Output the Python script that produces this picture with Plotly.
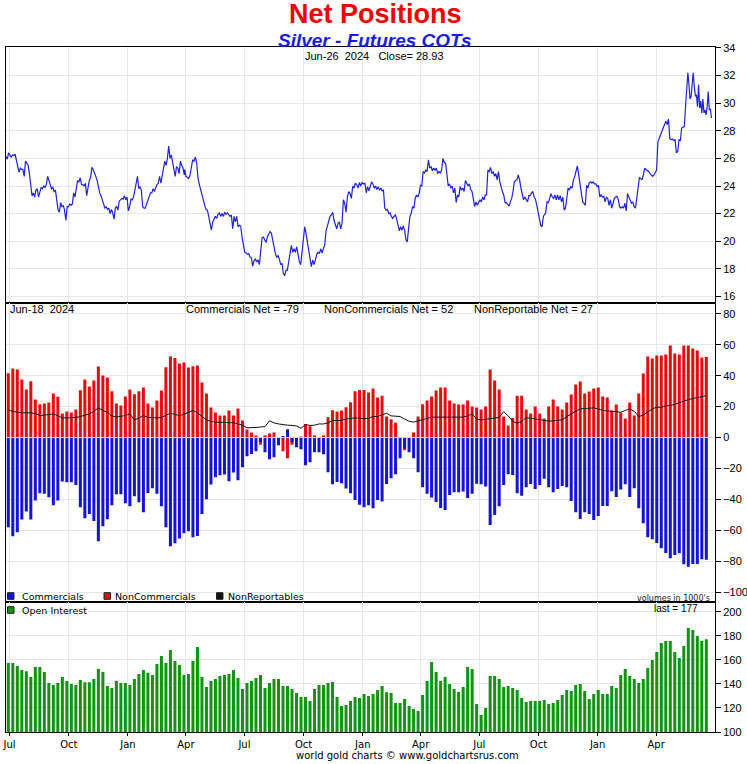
import numpy as np
import pandas as pd
import plotly.graph_objects as go
from plotly.subplots import make_subplots

# ---------------- DATA ----------------
cot_start = "2021-06-29"   # weekly COT report dates (Tuesdays)

commercials = [
    -58, -63.8, -61.2, -53, -47.8, -53, -40.7, -36, -36.4, -38.6,
    -43.8, -40.7, -28.4, -28.9, -28.9, -30.6, -45, -52.2, -49.4, -54,
    -67, -57.3, -52.8, -43.8, -36.6, -36.6, -42.5, -44.4, -38, -41.8,
    -48.3, -35.8, -32.8, -36.4, -44.4, -58, -70.3, -68.3, -65.3, -61.9,
    -60.6, -64.4, -63.6, -49.4, -39.9, -30.4, -25.7, -24.4, -23.9, -28.2,
    -22.6, -27.6, -19.2, -12.1, -10.6, -8.8, -3, -9.5, -14, -12.7,
    -5, 1, 5.4, -3, -6.2, -7.5, -17.9, -16, -9.5, -9.5,
    -10.8, -22.4, -30.2, -28.7, -29.5, -33, -36, -40.3, -43.5, -45,
    -43.8, -45.7, -40.3, -41.4, -30, -26.3, -23.7, -13.4, -7.1, -9.5,
    -13.4, -22.4, -32.1, -36.4, -38.8, -41.6, -45.5, -46.8, -37.1, -35.4,
    -35.4, -34.9, -39, -36.4, -29.8, -30.2, -31.7, -56.5, -50, -44.4,
    -30.6, -23.7, -24.2, -36, -37.7, -32.1, -30, -33.2, -30.6, -26.7,
    -32.1, -35.4, -33.2, -31.3, -32.1, -41, -48.3, -52.6, -48.3, -49.4,
    -53.3, -50.7, -44.2, -44.2, -34.7, -38.4, -33.6, -30.2, -38.4, -32.8,
    -45.7, -55.4, -64.5, -65.8, -68.1, -71.6, -74.6, -78, -75.9, -74.8,
    -81.9, -83.5, -81.7, -81.7, -78.7, -79,
]

noncommercials = [
    41.6, 44.6, 44, 37.5, 31, 36.4, 24.6, 21.5, 22, 22.6,
    28.4, 26.3, 15.5, 16.8, 16.2, 18.1, 30.6, 37.5, 33, 36.9,
    45.9, 40.1, 38.8, 30, 22, 20.7, 26.5, 31, 28, 30,
    32.3, 22, 19.4, 23.9, 30.4, 45.5, 52.4, 51.5, 47.8, 48.5,
    45.3, 46.1, 46.6, 35.6, 28.4, 19.4, 16.2, 14.2, 14.2, 17.5,
    14.2, 18.8, 11, 5.2, 3.2, 1.3, -4.7, 1.3, 2.6, 3.2,
    0, -8.8, -13.4, -4.7, 0, 0.6, 8.8, 7.3, 1.3, 0,
    1.3, 13.1, 17.7, 16.8, 17.5, 19.6, 22.8, 30, 30.8, 30.8,
    29.1, 31.7, 25.9, 27, 13.6, 11.9, 9.5, 0, -8.2, 0,
    3.2, 13.6, 21.6, 23.9, 26.5, 30.4, 32.3, 32.3, 23.9, 22,
    21.3, 21.3, 23.9, 20.1, 19.4, 18.1, 20.1, 44, 36.9, 31,
    13.6, 7.8, 12.7, 27, 27, 18.1, 15.5, 20.1, 15.5, 12.3,
    20.1, 24.6, 20.1, 18.1, 22.6, 27.8, 34.3, 36.2, 28.5, 29.8,
    31.7, 32.3, 26.5, 25.9, 17.5, 21.3, 16.2, 12.3, 22.6, 14.2,
    28.5, 41.4, 52.4, 51.1, 53, 53, 53.7, 59.5, 54.3, 53.7,
    59.5, 59.5, 57.6, 56.3, 51.8, 52,
]

nonreportables = [
    17.9, 16.8, 16.5, 16, 16, 16, 15.5, 14.2, 14.5, 15,
    15.3, 14, 12.7, 12.7, 12.7, 13, 13.6, 14.5, 15.3, 17,
    19.2, 17.5, 16.4, 14, 13.2, 13.8, 14.2, 15.3, 11.4, 12.5,
    14.2, 13, 12.7, 12.7, 13, 14.5, 15.7, 15, 14.2, 15,
    16.5, 17.5, 16, 13.5, 11.4, 10.5, 9.9, 9.9, 9.9, 9.9,
    9.5, 8.8, 8, 6.3, 6.3, 6.5, 6.8, 7.1, 10.8, 9.5,
    8.8, 8.3, 8, 7.8, 7.5, 6, 8.4, 7.8, 8, 8.8,
    8.8, 9.5, 11, 11, 11, 12, 12.5, 12.7, 12.5, 12.1,
    12.5, 13.6, 13.6, 14.5, 15.7, 14, 13.6, 13.6, 12, 10.5,
    10, 10.8, 12, 12.7, 13.2, 13.2, 13.2, 13.2, 13.2, 13,
    13, 13.2, 14, 15.3, 12, 11.4, 11.8, 12.3, 12.7, 13,
    16.8, 14, 10.5, 9.3, 10.5, 12.7, 12.5, 12, 11.4, 11,
    10.6, 10.8, 11, 11.5, 13.5, 15.5, 17, 18.5, 18.8, 19,
    19.2, 18.5, 17.5, 17.2, 17, 16.5, 16.4, 17.5, 18.5, 17,
    13.6, 14.5, 16.4, 18.5, 19.6, 19.5, 20.5, 20.7, 21.5, 22.5,
    23.9, 24.5, 25.2, 26, 26.5, 27,
]

open_interest = [
    157.3, 157.3, 154.8, 151.5, 150.4, 145.7, 154, 154, 149.9, 140.7,
    139.1, 140.7, 145.7, 142.4, 139.9, 139.1, 143.2, 141.3, 141.3, 144,
    152.4, 149.9, 138.2, 136.6, 142.4, 140.7, 140.7, 139.1, 144, 148.2,
    151.5, 149.3, 147.4, 156.5, 163.2, 157.3, 168.1, 159, 155.7, 147.4,
    148.2, 159, 170.6, 145.7, 137.4, 142.4, 144, 146.5, 147.4, 148.2,
    151.5, 144.9, 135.7, 140.7, 142.4, 144.9, 147.4, 136.6, 140.7, 144,
    144, 138.2, 138.2, 135.7, 132.4, 129.1, 129.1, 125.8, 135.7, 139.1,
    139.1, 140.7, 141.6, 129.1, 121.6, 122.4, 125.8, 129.1, 128.3, 131.6,
    129.9, 131.6, 134.9, 138.2, 133, 132.4, 124.1, 124.1, 127.4, 121.6,
    119.1, 117.5, 130.7, 142.4, 158.2, 149.9, 142.4, 145.7, 139.9, 135.7,
    133.2, 137.4, 154, 152.4, 123.3, 114.1, 119.9, 146.5, 146.5, 144,
    137.4, 138.2, 136.6, 134.9, 128.3, 124.9, 125.8, 125.8, 125.8, 126.6,
    123.3, 124.1, 126.6, 130.7, 134.9, 134.1, 139.1, 139.9, 134.1, 127.4,
    131.6, 134.9, 131.6, 131.6, 138.2, 136.6, 147.4, 152.4, 146.5, 144,
    140.7, 144, 153.2, 159.8, 166.5, 174, 175.6, 175.6, 166.5, 161.5,
    171.5, 186.4, 184.8, 179.8, 175.6, 177,
]

# Silver close price, read in segments; each segment spans (start_day, end_day)
# counted in days from 2021-07-01
price_base = "2021-07-01"
price_seg_days = [(-5.6, 271.6), (272.2, 552.0), (552.4, 831.8), (833.3, 1048.8), (1051.0, 1091.0)]

price_seg_1 = [
    26.13, 25.94, 26.4, 26.2, 26.1, 26.25, 26.2, 26.3, 25.9, 25.4,
    25.0, 25.3, 25.2, 25.2, 24.7, 25.8, 25.6, 25.5, 24.9, 24.1,
    23.3, 23.5, 23.2, 23.7, 23.8, 23.2, 23.6, 23.9, 23.8, 24.0,
    23.9, 24.1, 24.7, 24.4, 24.1, 23.8, 23.9, 23.6, 23.7, 23.0,
    22.25, 22.1, 22.8, 22.5, 22.6, 22.25, 21.5, 22.5, 22.5, 22.7,
    22.6, 22.7, 23.5, 23.2, 23.7, 24.4, 24.3, 24.6, 24.1, 24.1,
    24.0, 24.2, 23.3, 24.0, 24.4, 24.6, 25.35, 25.2, 25.0, 24.7,
    24.4, 23.8, 23.5, 23.3, 23.0, 22.7, 22.4, 22.5, 22.3, 22.4,
    22.0, 22.3, 22.05, 21.6, 22.4, 22.5, 22.25, 22.9, 23.0, 23.1,
    23.05, 23.3, 23.0, 23.2, 22.2, 22.5, 23.05, 23.0, 23.2, 23.6,
    24.2, 24.7, 23.8, 23.95, 23.7, 22.5, 22.4, 22.4, 22.7, 23.0,
    23.3, 23.5, 23.5, 23.8, 23.6, 23.95, 24.1, 24.2, 24.7, 24.2,
    24.8, 25.4, 25.8, 25.5, 26.0, 26.9, 26.0, 26.25, 25.65, 25.2,
    24.7, 25.4, 25.3, 24.9, 25.8, 25.5, 25.3, 24.8,
]
price_seg_2 = [
    25.2, 24.7, 24.6, 24.55, 24.8, 25.4, 25.9, 25.8, 26.1, 25.65,
    24.55, 24.1, 23.7, 23.35, 22.85, 22.6, 22.3, 22.25, 21.8, 21.3,
    20.8, 21.4, 21.65, 21.8, 21.65, 21.95, 22.05, 21.8, 22.0, 21.8,
    22.1, 21.95, 22.05, 21.9, 21.8, 21.9, 20.9, 21.8, 21.4, 21.8,
    21.05, 21.15, 21.1, 20.3, 19.85, 19.2, 19.15, 19.05, 19.1, 18.85,
    18.8, 18.2, 18.6, 18.7, 18.5, 18.65, 18.3, 19.2, 20.25, 20.3,
    20.05, 19.9, 20.3, 20.55, 20.7, 20.6, 20.05, 19.7, 19.1, 18.85,
    18.95, 18.7, 18.3, 18.4, 17.65, 17.5, 17.9, 17.9, 18.4, 19.1,
    19.7, 19.2, 19.45, 19.2, 19.6, 19.1, 18.5, 18.3, 19.1, 19.95,
    21.05, 20.55, 19.95, 19.35, 19.0, 18.15, 18.65, 18.3, 18.65, 19.05,
    19.2, 19.1, 19.45, 19.15, 19.45, 19.7, 20.75, 21.05, 21.5, 21.8,
    21.9, 22.1, 21.5, 21.15, 20.9, 21.3, 21.4, 20.9, 21.3, 23.0,
    22.75, 22.1, 23.2, 23.6, 23.45, 23.1, 24.0, 23.85, 24.2, 24.1,
    23.85, 24.25, 24.0, 24.25, 24.15, 24.2,
]
price_seg_3 = [
    24.2, 23.5, 23.95, 23.65, 24.0, 24.3, 24.15, 23.85, 24.0, 23.75,
    23.95, 23.7, 23.85, 23.65, 23.7, 22.4, 22.25, 22.3, 22.0, 22.05,
    21.8, 21.65, 21.8, 21.9, 21.6, 21.05, 20.75, 21.05, 20.8, 21.1,
    20.8, 20.1, 19.95, 20.9, 21.8, 22.0, 22.5, 22.4, 23.1, 23.35,
    23.2, 23.45, 24.05, 24.0, 25.05, 24.95, 25.15, 25.05, 25.9, 25.3,
    25.4, 25.1, 25.3, 25.15, 25.3, 24.9, 25.05, 24.95, 25.15, 26.0,
    25.7, 25.65, 24.8, 24.0, 24.15, 23.85, 24.0, 23.5, 23.85, 22.8,
    23.35, 23.2, 23.95, 23.7, 23.85, 23.6, 24.4, 24.2, 24.0, 24.15,
    23.75, 23.6, 23.0, 22.5, 22.85, 22.6, 22.8, 23.0, 22.85, 23.2,
    23.0, 23.35, 23.35, 25.15, 25.05, 25.35, 24.9, 25.05, 24.7, 24.9,
    24.45, 25.05, 24.3, 23.85, 23.6, 23.35, 22.8, 22.8, 22.7, 22.55,
    22.85, 23.1, 23.6, 24.3, 24.4, 24.45, 24.8, 24.45, 23.85, 23.45,
    23.0, 23.2, 23.05, 22.85, 23.3, 23.3, 23.5, 23.6, 23.2, 23.05,
    22.6, 22.1, 21.65, 21.15, 21.05, 21.8, 21.95,
]
price_seg_4 = [
    22.05, 22.85, 22.8, 23.1, 23.45, 23.2, 23.1, 23.35, 23.0, 23.35,
    23.0, 23.3, 22.85, 23.2, 22.25, 22.4, 23.2, 23.85, 23.7, 23.95,
    23.85, 24.45, 24.7, 25.05, 25.45, 24.8, 24.2, 23.7, 22.85, 22.75,
    22.6, 24.05, 23.85, 24.25, 24.3, 24.2, 24.3, 24.15, 24.15, 23.95,
    24.05, 23.2, 23.35, 23.2, 23.25, 22.85, 23.2, 23.1, 22.6, 23.0,
    22.4, 22.75, 23.1, 23.2, 23.25, 23.0, 22.5, 22.4, 22.5, 22.4,
    22.75, 22.2, 23.45, 23.2, 23.0, 22.75, 22.85, 22.5, 22.4, 23.2,
    24.05, 24.6, 24.55, 24.45, 24.8, 25.3, 25.2, 25.15, 25.05, 24.9,
    24.8, 24.7, 24.8, 24.95, 25.15, 27.2, 27.5, 27.7, 27.95, 28.2,
    28.45, 28.7, 28.45, 28.85, 27.45, 27.35, 27.4, 27.3, 27.35, 26.4,
    26.5, 27.35, 27.3, 28.2, 28.25, 28.3,
]
price_seg_5 = [
    30.0, 31.2, 32.2, 31.35, 30.3, 30.5, 31.45, 32.2, 31.2, 30.5,
    30.6, 29.75, 31.35, 29.65, 30.15, 29.3, 30.3, 29.3, 29.5, 29.15,
    29.75, 30.85, 29.5, 29.6, 28.93,
]

quarter_tick_labels = ["Jul", "Oct", "Jan", "Apr", "Jul", "Oct", "Jan", "Apr", "Jul", "Oct", "Jan", "Apr"]
quarter_tick_dates = ["2021-07-01", "2021-10-01", "2022-01-01", "2022-04-01", "2022-07-01", "2022-10-01",
                      "2023-01-01", "2023-04-01", "2023-07-01", "2023-10-01", "2024-01-01", "2024-04-01"]

# ---------------- BUILD ----------------
cot_dates = pd.date_range(cot_start, periods=len(commercials), freq="7D")

base = pd.Timestamp(price_base)
price_dates, price_vals = [], []
for (d0, d1), seg in zip(price_seg_days, [price_seg_1, price_seg_2, price_seg_3, price_seg_4, price_seg_5]):
    offs = np.linspace(d0, d1, len(seg))
    price_dates.extend(list(base + pd.to_timedelta(offs, unit="D")))
    price_vals.extend(seg)

BLUE = "#1414d2"
RED = "#e30d0d"
GREEN = "#139313"
GRID = "#e3e8f0"
bar_w = 4.7 * 86400000

fig = make_subplots(rows=3, cols=1, shared_xaxes=True, vertical_spacing=0,
                    row_heights=[255.5, 299.8, 129.7])

fig.add_trace(go.Scatter(x=price_dates, y=price_vals, mode="lines",
                         line=dict(color="#2222d8", width=1.2), name="Close"), row=1, col=1)

fig.add_trace(go.Bar(x=cot_dates, y=noncommercials, width=bar_w, marker=dict(color=RED, line=dict(width=0)),
                     name="NonCommercials"), row=2, col=1)
fig.add_trace(go.Bar(x=cot_dates, y=commercials, width=bar_w, marker=dict(color=BLUE, line=dict(width=0)),
                     name="Commercials"), row=2, col=1)
fig.add_trace(go.Scatter(x=cot_dates, y=nonreportables, mode="lines",
                         line=dict(color="#111111", width=1), name="NonReportables"), row=2, col=1)

fig.add_trace(go.Bar(x=cot_dates, y=open_interest, width=bar_w, marker=dict(color=GREEN, line=dict(width=0)),
                     name="Open Interest"), row=3, col=1)

xr = ["2021-06-25 10:00", "2024-07-01 12:00"]
for r in (1, 2, 3):
    fig.update_xaxes(row=r, col=1, type="date", range=xr,
                     tickmode="array", tickvals=quarter_tick_dates, ticktext=quarter_tick_labels,
                     showgrid=True, gridcolor=GRID, gridwidth=1,
                     showline=True, linecolor="black", linewidth=1, mirror=True,
                     zeroline=False, automargin=False,
                     ticks="outside" if r == 3 else "", ticklen=3, tickcolor="black",
                     tickfont=dict(family="DejaVu Sans", size=10, color="black"),
                     showticklabels=(r == 3))

yfont = dict(family="Liberation Sans, Arial", size=11, color="black")
fig.update_yaxes(row=1, col=1, range=[15.56, 34.07], tickmode="linear", tick0=16, dtick=2)
fig.update_yaxes(row=2, col=1, range=[-106.5, 87.3], tickmode="linear", tick0=-100, dtick=20)
fig.update_yaxes(row=3, col=1, range=[100, 207.8], tickmode="linear", tick0=100, dtick=20)
fig.update_yaxes(side="right", ticks="outside", ticklen=5, tickcolor="black",
                 showgrid=True, gridcolor=GRID, gridwidth=1,
                 showline=True, linecolor="black", linewidth=1, mirror=True,
                 zeroline=False, automargin=False, tickfont=yfont)

fig.add_shape(type="line", xref="x2 domain", x0=0, x1=1, yref="y2", y0=0, y1=0,
              line=dict(color="#d6d6e2", width=1), layer="above")

W, H = 747, 764
L, R, T, B = 6, 32, 47, 32
pw, ph = W - L - R, H - T - B


def px(x):
    return (x - L) / pw


def py(y):
    return (H - B - y) / ph


def ann(text, x, y, xanchor="left", size=11, family="Liberation Sans, Arial", color="black"):
    fig.add_annotation(text=text, x=px(x), y=py(y), xref="paper", yref="paper",
                       xanchor=xanchor, yanchor="middle", showarrow=False,
                       font=dict(family=family, size=size, color=color))


def key_square(x, y, color):
    fig.add_shape(type="rect", xref="paper", yref="paper",
                  x0=px(x), x1=px(x + 6.5), y0=py(y + 3.3), y1=py(y - 3.3),
                  fillcolor=color, line=dict(color="#222222", width=1), layer="above")


nb = "\u00a0"
ann("<b>Net Positions</b>", 375, 14, "center", 27, "Liberation Sans, Arial", "#f00000")
ann("<b><i>Silver - Futures COTs</i></b>", 375, 40, "center", 19, "Liberation Sans, Arial", "#1c1ce0")
ann(f"Jun-26{nb}{nb}2024{nb}{nb}{nb}Close={nb}{price_seg_5[-1]:.2f}", 374.5, 56, "center", 11)
ann(f"Jun-18{nb}{nb}2024", 8, 309, "left", 11)
ann(f"Commercials Net = {commercials[-1]:.0f}", 184, 309, "left", 11)
ann(f"NonCommercials Net = {noncommercials[-1]:.0f}", 322, 309, "left", 11)
ann(f"NonReportable Net = {nonreportables[-1]:.0f}", 472, 309, "left", 11)

lf = "DejaVu Sans, Verdana"
key_square(7.5, 596, BLUE)
ann("Commercials", 19.5, 596, "left", 9.5, lf)
key_square(104, 596, RED)
ann("NonCommercials", 113, 596, "left", 9.5, lf)
key_square(216.5, 596, "#111111")
ann("NonReportables", 225.5, 596, "left", 9.5, lf)
ann("volumes in 1000's", 712, 598, "right", 8, lf, "#222")
key_square(7.5, 610, GREEN)
ann("Open Interest", 19.5, 610, "left", 9.5, lf)
ann(f"last = {open_interest[-1]:.0f}", 700, 608, "right", 10)
ann("world gold charts © www.goldchartsrus.com", 407, 756, "center", 10, lf)

fig.update_layout(width=W, height=H, margin=dict(l=L, r=R, t=T, b=B, autoexpand=False),
                  paper_bgcolor="white", plot_bgcolor="white",
                  barmode="overlay", showlegend=False)

fig.write_html("out.html", config={"displayModeBar": False},
               post_script="document.body.style.margin='0px';document.body.style.overflow='hidden';")
